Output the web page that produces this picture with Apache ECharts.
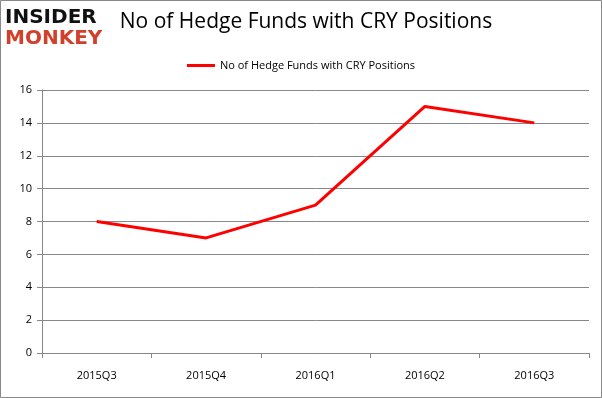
<!DOCTYPE html>
<html><head><meta charset="utf-8">
<script src="https://cdn.jsdelivr.net/npm/echarts@6/dist/echarts.min.js"></script>
<style>html,body{margin:0;padding:0;background:#fff}#c{width:602px;height:398px}</style>
</head><body><div id="c"></div>
<script>
const categories = ['2015Q3','2015Q4','2016Q1','2016Q2','2016Q3'];
const values = [8, 7, 9, 15, 14];
const seriesName = 'No of Hedge Funds with CRY Positions';
const titleText = 'No of Hedge Funds with CRY Positions';

const chart = echarts.init(document.getElementById('c'));
chart.setOption({
  animation: false,
  backgroundColor: '#fff',
  graphic: [
    {type:'rect', shape:{x:0.5,y:0.5,width:601,height:397}, style:{fill:'none', stroke:'#888', lineWidth:1}},
    {type:'text', left:5, top:8, style:{text:'INSIDER', font:'900 20px "DejaVu Sans"', fill:'#111'}},
    {type:'text', left:5, top:29, style:{text:'MONKEY', font:'900 20px "DejaVu Sans"', fill:'#d0402a'}}
  ],
  title: {
    text: titleText, left: 301, top: 7, textAlign: 'center',
    textStyle: {fontFamily: 'Open Sans', fontWeight: 'normal', fontSize: 21, color: '#000'}
  },
  legend: {
    top: 55, left: 'center', itemWidth: 28, itemHeight: 3, icon: 'rect',
    textStyle: {fontFamily: 'Open Sans', fontSize: 11, color: '#000'},
    data: [seriesName]
  },
  grid: {left: 42, right: 13, top: 90, bottom: 45},
  xAxis: {
    type: 'category', data: categories, boundaryGap: true,
    axisLine: {lineStyle: {color: '#888'}},
    axisTick: {show: true, alignWithLabel: false, lineStyle: {color: '#888'}},
    axisLabel: {fontFamily: 'Open Sans', fontSize: 11, color: '#000', margin: 17}
  },
  yAxis: {
    type: 'value', min: 0, max: 16, interval: 2,
    axisLine: {show: true, lineStyle: {color: '#888'}},
    axisTick: {show: true, lineStyle: {color: '#888'}},
    splitLine: {lineStyle: {color: '#888'}},
    axisLabel: {fontFamily: 'Open Sans', fontSize: 11, color: '#000', margin: 10}
  },
  series: [{
    name: seriesName, type: 'line', data: values, symbol: 'none',
    lineStyle: {color: '#ff0000', width: 3}, itemStyle: {color: '#ff0000'}
  }]
});
</script></body></html>
